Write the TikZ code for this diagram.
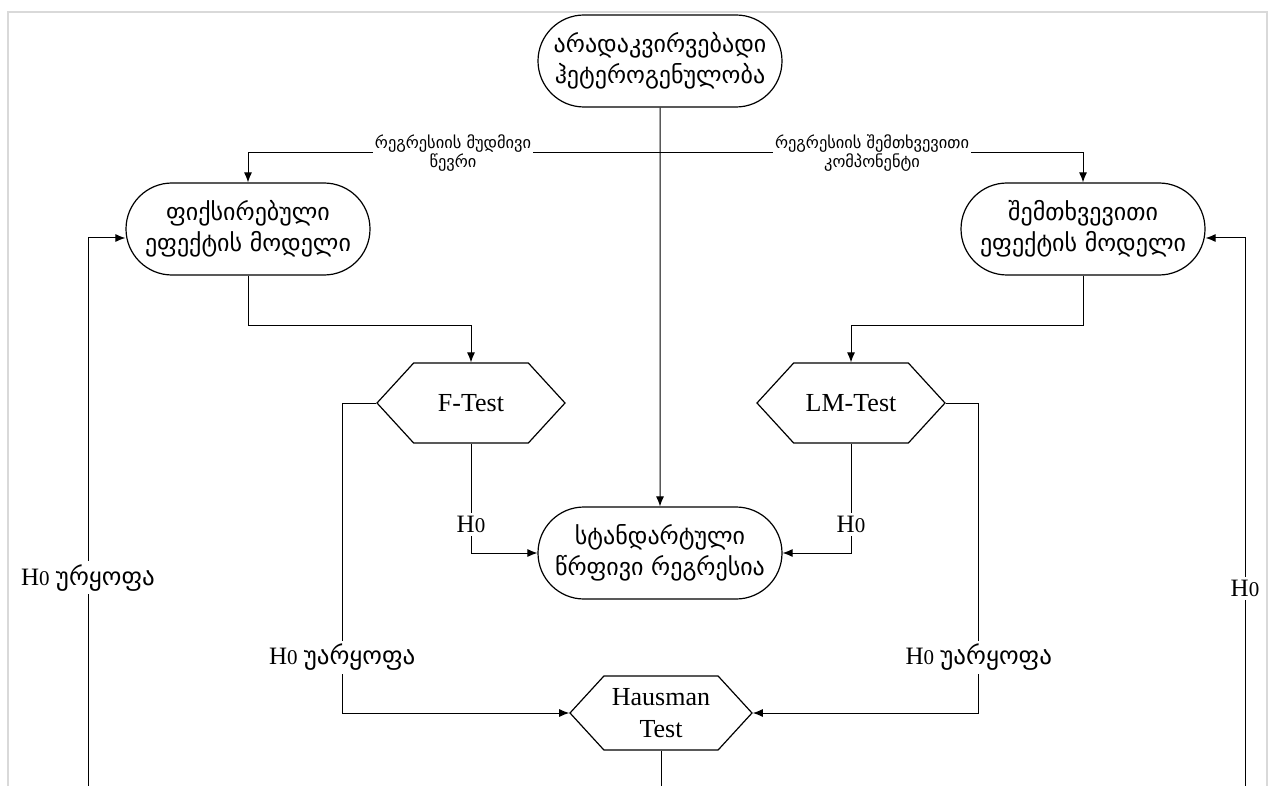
\documentclass[tikz,border=0pt]{standalone}
\usepackage{fontspec}
\setmainfont{Liberation Serif}
\newfontfamily\geo{DejaVu Sans}
\usetikzlibrary{shapes.misc,shapes.symbols,arrows.meta}
\begin{document}
\begin{tikzpicture}[x=0.5pt,y=-0.5pt,line width=0.5pt,
  every node/.style={font=\geo\fontsize{12}{15.5}\selectfont,align=center},
  term/.style={rounded rectangle,draw,line width=0.6pt,minimum width=122pt,minimum height=46pt,inner sep=0pt},
  test/.style={signal,signal to=west and east,signal pointer angle=95,draw,line width=0.6pt,inner sep=0pt,font=\fontsize{13}{16}\selectfont},
  lab/.style={fill=white,inner sep=1pt,font=\geo\fontsize{8.2}{9.8}\selectfont},
  hlab/.style={fill=white,inner sep=1.5pt,font=\fontsize{12.5}{14}\selectfont},
  arr/.style={-{Latex[length=5pt,width=4pt]}}]
\useasboundingbox (0,0) rectangle (1273,786);
\draw[gray!30,line width=1pt] (8,786) -- (8,12) -- (1267,12) -- (1267,786);
% nodes
\node[term] (top) at (660,61) {არადაკვირვებადი\\ჰეტეროგენულობა};
\node[term] (fixed) at (248,229) {ფიქსირებული\\ეფექტის მოდელი};
\node[term] (random) at (1083,229) {შემთხვევითი\\ეფექტის მოდელი};
\node[term] (std) at (660,553) {სტანდარტული\\წრფივი რეგრესია};
\node[test,minimum width=94pt,minimum height=40pt] (ftest) at (471,403) {F-Test};
\node[test,minimum width=94pt,minimum height=40pt] (lmtest) at (851,403) {LM-Test};
\node[test,minimum width=91pt,minimum height=37pt] (haus) at (661,713) {Hausman\\Test};
\coordinate (split) at (660,153);
\coordinate (lbot) at (88,786);
\coordinate (rbot) at (1245,786);
\coordinate (hbot) at (661,786);
% connectors
\draw[arr] (top) -- (std);
\draw[arr] (split) -| (fixed.north);
\draw[arr] (split) -| (random.north);
\node[lab] (lfixed) at (453,153) {რეგრესიის მუდმივი\\წევრი};
\node[lab] (lrandom) at (872,153) {რეგრესიის შემთხვევითი\\კომპონენტი};
\draw[arr] (fixed.south) -- ++(0,50) -| (ftest.north);
\draw[arr] (random.south) -- ++(0,50) -| (lmtest.north);
\draw[arr] (ftest.south) |- node[hlab,pos=0.37] (hf) {H{\fontsize{10.5}{12}\selectfont 0}} (std.west);
\draw[arr] (lmtest.south) |- node[hlab,pos=0.37] (hl) {H{\fontsize{10.5}{12}\selectfont 0}} (std.east);
\draw[arr] (ftest.west) -- ++(-34,0) |- node[hlab,pos=0.41] (rf) {H{\fontsize{10.5}{12}\selectfont 0} {\geo უარყოფა}} (haus.west);
\draw[arr] (lmtest.east) -- ++(33,0) |- node[hlab,pos=0.41] (rl) {H{\fontsize{10.5}{12}\selectfont 0} {\geo უარყოფა}} (haus.east);
\draw (haus.south) -- (hbot);
\draw[arr] (lbot) |- node[hlab,pos=0.19] (rh) {H{\fontsize{10.5}{12}\selectfont 0} {\geo ურყოფა}} ([yshift=-4.5pt]fixed.west);
\draw[arr] (rbot) |- node[hlab,pos=0.18] (hh) {H{\fontsize{10.5}{12}\selectfont 0}} ([yshift=-4.5pt]random.east);
\end{tikzpicture}
\end{document}
